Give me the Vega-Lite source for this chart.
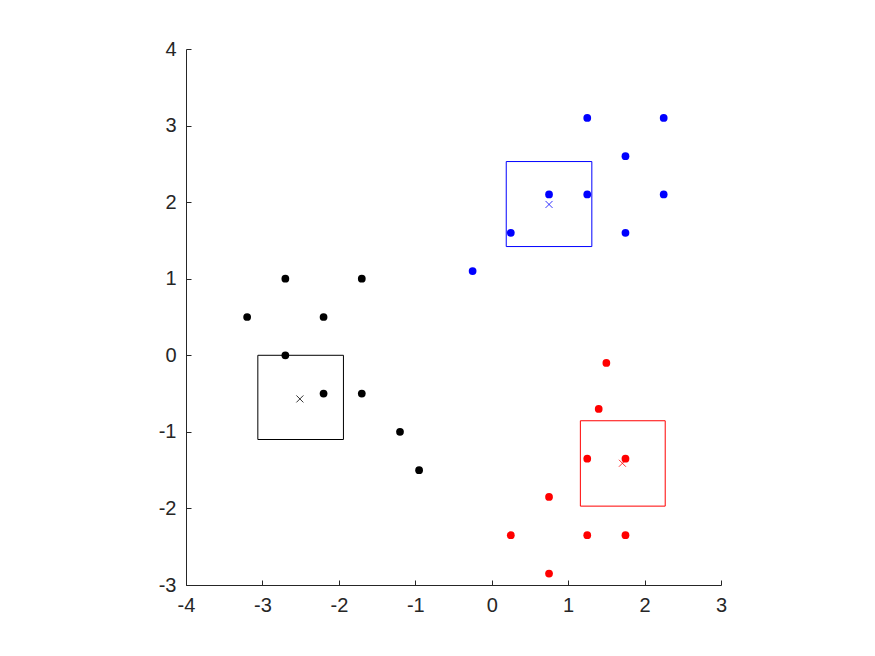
{
  "$schema": "https://vega.github.io/schema/vega-lite/v6.json",
  "autosize": {"type": "none"},
  "padding": {"left": 186, "top": 49, "right": 154, "bottom": 71},
  "width": 535,
  "height": 536,
  "background": "white",
  "config": {
    "view": {"stroke": null},
    "axis": {
      "grid": false,
      "domainColor": "#262626",
      "domainWidth": 1,
      "tickColor": "#262626",
      "tickSize": -5,
      "labelColor": "#262626",
      "labelFont": "Liberation Sans",
      "labelExpr": "replace(datum.label, '\u2212', '-')",
      "title": null
    }
  },
  "data": {
    "values": [
      {"kind": "pt", "g": "k", "x": -3.2, "y": 0.5},
      {"kind": "pt", "g": "k", "x": -2.7, "y": 1},
      {"kind": "pt", "g": "k", "x": -2.2, "y": 0.5},
      {"kind": "pt", "g": "k", "x": -1.7, "y": 1},
      {"kind": "pt", "g": "k", "x": -2.7, "y": 0},
      {"kind": "pt", "g": "k", "x": -2.2, "y": -0.5},
      {"kind": "pt", "g": "k", "x": -1.7, "y": -0.5},
      {"kind": "pt", "g": "k", "x": -1.2, "y": -1},
      {"kind": "pt", "g": "k", "x": -0.95, "y": -1.5},
      {"kind": "pt", "g": "b", "x": -0.25, "y": 1.1},
      {"kind": "pt", "g": "b", "x": 0.25, "y": 1.6},
      {"kind": "pt", "g": "b", "x": 0.75, "y": 2.1},
      {"kind": "pt", "g": "b", "x": 1.25, "y": 2.1},
      {"kind": "pt", "g": "b", "x": 1.25, "y": 3.1},
      {"kind": "pt", "g": "b", "x": 1.75, "y": 2.6},
      {"kind": "pt", "g": "b", "x": 1.75, "y": 1.6},
      {"kind": "pt", "g": "b", "x": 2.25, "y": 3.1},
      {"kind": "pt", "g": "b", "x": 2.25, "y": 2.1},
      {"kind": "pt", "g": "r", "x": 1.5, "y": -0.1},
      {"kind": "pt", "g": "r", "x": 1.4, "y": -0.7},
      {"kind": "pt", "g": "r", "x": 1.25, "y": -1.35},
      {"kind": "pt", "g": "r", "x": 1.75, "y": -1.35},
      {"kind": "pt", "g": "r", "x": 0.75, "y": -1.85},
      {"kind": "pt", "g": "r", "x": 0.25, "y": -2.35},
      {"kind": "pt", "g": "r", "x": 1.25, "y": -2.35},
      {"kind": "pt", "g": "r", "x": 1.75, "y": -2.35},
      {"kind": "pt", "g": "r", "x": 0.75, "y": -2.85},
      {"kind": "cross", "g": "k", "x": -2.51, "y": -0.57},
      {"kind": "cross", "g": "b", "x": 0.75, "y": 1.97},
      {"kind": "cross", "g": "r", "x": 1.71, "y": -1.41},
      {"kind": "box", "g": "k", "x": -3.06, "x2": -1.94, "y": -1.1, "y2": 0.0},
      {"kind": "box", "g": "b", "x": 0.19, "x2": 1.31, "y": 1.42, "y2": 2.53},
      {"kind": "box", "g": "r", "x": 1.16, "x2": 2.27, "y": -1.97, "y2": -0.855}
    ]
  },
  "encoding": {
    "x": {"field": "x", "type": "quantitative",
          "scale": {"domain": [-4, 3], "nice": false, "zero": false},
          "axis": {"values": [-4, -3, -2, -1, 0, 1, 2, 3], "labelPadding": 15, "labelFlush": false, "labelFontSize": 20}},
    "y": {"field": "y", "type": "quantitative",
          "scale": {"domain": [-3, 4], "nice": false, "zero": false},
          "axis": {"values": [-3, -2, -1, 0, 1, 2, 3, 4], "labelPadding": 15, "labelFlush": false, "labelFontSize": 20}},
    "color": {"field": "g", "type": "nominal",
              "scale": {"domain": ["k", "b", "r"], "range": ["#000000", "#0000ff", "#ff0000"]},
              "legend": null}
  },
  "layer": [
    {
      "transform": [{"filter": "datum.kind === 'box'"}],
      "mark": {"type": "rect", "filled": false, "strokeWidth": 1},
      "encoding": {
        "x2": {"field": "x2"},
        "y2": {"field": "y2"}
      }
    },
    {
      "transform": [{"filter": "datum.kind === 'pt'"}],
      "mark": {"type": "point", "filled": true, "shape": "circle", "size": 60, "opacity": 1}
    },
    {
      "transform": [{"filter": "datum.kind === 'cross'"}],
      "mark": {"type": "point", "filled": false, "shape": "M-1,-1L1,1M-1,1L1,-1", "size": 49, "strokeWidth": 0.8, "opacity": 1}
    }
  ]
}
